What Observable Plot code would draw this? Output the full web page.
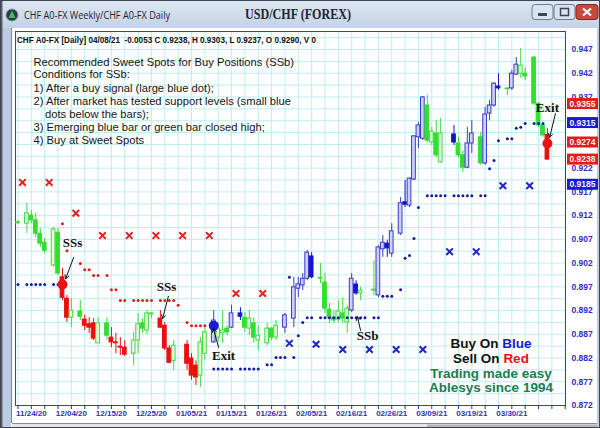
<!DOCTYPE html>
<html><head><meta charset="utf-8">
<script src="https://cdn.jsdelivr.net/npm/d3@7"></script>
<script src="https://cdn.jsdelivr.net/npm/@observablehq/plot@0.6"></script>
<style>html,body{margin:0;padding:0;background:#fff;}#chart{width:600px;height:428px;overflow:hidden}</style>
</head><body><div id="chart"></div>
<script>
// ---- data ----
// [bar index, open, high, low, close, kind]  kind: gf green filled, gh green hollow, rf red, bf blue filled, bh blue hollow
const candleRows = [
[0,.9104,.9110,.9101,.9106,"gh"],[2,.9103,.9146,.9082,.9125,"gh"],[3,.9120,.9131,.9103,.9110,"gf"],
[4,.9110,.9125,.9074,.9082,"gf"],[5,.9082,.9093,.9053,.9061,"gf"],[6,.9063,.9072,.9040,.9046,"gf"],
[8,.9015,.9095,.9011,.9091,"gh"],[9,.9084,.9093,.8994,.8998,"gf"],[10,.8990,.9009,.8941,.8947,"rf"],
[11,.8945,.8952,.8895,.8905,"rf"],[12,.8905,.8945,.8884,.8920,"gh"],[14,.8918,.8941,.8899,.8907,"gf"],
[15,.8901,.8910,.8878,.8888,"rf"],[16,.8891,.8905,.8872,.8884,"rf"],[17,.8893,.8903,.8857,.8861,"rf"],
[18,.8851,.8905,.8851,.8893,"gh"],[20,.8893,.8905,.8857,.8867,"gf"],[21,.8863,.8884,.8842,.8853,"rf"],
[22,.8853,.8872,.8829,.8851,"rf"],[23,.8844,.8863,.8825,.8842,"rf"],[24,.8842,.8857,.8823,.8827,"rf"],
[26,.8829,.8874,.8804,.8857,"gh"],[27,.8857,.8914,.8829,.8891,"gh"],[28,.8893,.8903,.8872,.8882,"gf"],
[29,.8878,.8920,.8870,.8914,"gh"],[30,.8912,.8916,.8903,.8914,"gh"],[32,.8903,.8920,.8882,.8884,"rf"],
[33,.8888,.8895,.8836,.8840,"rf"],[34,.8840,.8846,.8808,.8810,"rf"],[35,.8814,.8857,.8794,.8846,"gh"],
[38,.8848,.8857,.8794,.8808,"rf"],[39,.8819,.8829,.8773,.8783,"rf"],[40,.8804,.8814,.8762,.8779,"rf"],
[41,.8783,.8863,.8758,.8853,"gh"],[42,.8829,.8884,.8814,.8874,"gh"],[44,.8853,.8920,.8851,.8899,"bh"],
[45,.8863,.8893,.8853,.8882,"gh"],[46,.8872,.8920,.8851,.8878,"gh"],[47,.8882,.8888,.8867,.8874,"gf"],
[48,.8884,.8931,.8882,.8914,"bh"],[50,.8914,.8926,.8899,.8907,"bf"],[51,.8905,.8916,.8874,.8884,"gf"],
[52,.8882,.8920,.8867,.8903,"gh"],[53,.8893,.8905,.8851,.8863,"gf"],[54,.8857,.8888,.8836,.8867,"gh"],
[56,.8851,.8893,.8846,.8882,"gh"],[57,.8882,.8884,.8857,.8863,"gf"],[58,.8863,.8899,.8857,.8888,"gh"],
[60,.8884,.8914,.8872,.8910,"bh"],[62,.8903,.8990,.8884,.8969,"bh"],[63,.8966,.8990,.8947,.8975,"bh"],
[64,.8973,.8998,.8962,.8987,"bh"],[65,.8987,.9046,.8983,.9042,"bh"],[66,.9034,.9042,.8987,.8990,"bf"],
[68,.8987,.9019,.8977,.8989,"gh"],[69,.8979,.8998,.8914,.8924,"gf"],[70,.8922,.8935,.8893,.8905,"gf"],
[71,.8905,.8920,.8893,.8899,"gf"],[72,.8901,.8941,.8895,.8918,"gh"],[73,.8914,.8947,.8893,.8903,"gf"],
[74,.8895,.8931,.8872,.8924,"gh"],[75,.8920,.8998,.8916,.8987,"bh"],[76,.8975,.8983,.8952,.8956,"bf"],
[77,.8956,.8969,.8941,.8962,"gh"],[80,.8962,.9025,.8952,.8964,"gh"],[81,.8952,.9057,.8947,.9053,"bh"],
[82,.9049,.9078,.9032,.9063,"bh"],[83,.9061,.9068,.9032,.9051,"bf"],[84,.9040,.9103,.9032,.9087,"bh"],
[86,.9082,.9158,.9078,.9146,"bh"],[87,.9148,.9194,.9137,.9143,"bf"],[88,.9141,.9200,.9137,.9198,"bh"],
[89,.9196,.9289,.9194,.9287,"bh"],[90,.9285,.9316,.9261,.9310,"bh"],[91,.9282,.9371,.9278,.9369,"bh"],
[92,.9352,.9373,.9274,.9278,"gf"],[93,.9274,.9306,.9268,.9297,"gh"],[94,.9293,.9320,.9242,.9247,"gf"],
[95,.9232,.9325,.9230,.9293,"gh"],[98,.9291,.9310,.9268,.9274,"bf"],[99,.9272,.9285,.9242,.9247,"gf"],
[100,.9247,.9257,.9211,.9221,"gf"],[101,.9221,.9306,.9219,.9272,"bh"],[102,.9272,.9320,.9251,.9293,"bh"],
[104,.9285,.9295,.9226,.9230,"gf"],[105,.9230,.9348,.9226,.9333,"bh"],[106,.9335,.9363,.9320,.9352,"bh"],
[107,.9352,.9400,.9348,.9398,"bh"],[108,.9392,.9419,.9384,.9388,"bf"],[110,.9386,.9390,.9373,.9388,"gh"],
[111,.9388,.9426,.9384,.9419,"bh"],[112,.9417,.9453,.9415,.9438,"bh"],[113,.9419,.9472,.9409,.9436,"gh"],
[114,.9419,.9432,.9405,.9413,"gf"],[116,.9453,.9455,.9352,.9356,"gf"],[117,.9356,.9358,.9306,.9310,"gf"],
[118,.9310,.9314,.9285,.9289,"gf"],[119,.9290,.9303,.9237,.9238,"rf"]
];
// support (small blue) dots [index, price]
const supportDots = [
[0,.8975],[2,.8975],[3,.8975],[4,.8975],[5,.8975],[6,.8975],[8,.8975],[9,.8975],
[44,.8797],[45,.8797],[46,.8797],[47,.8797],[48,.8797],[50,.8797],[51,.8797],[52,.8797],[53,.8797],[54,.8797],
[56,.8806],[57,.8806],[58,.8821],[59,.8821],[60,.8821],[61,.8990],[62,.8821],[63,.8867],[64,.8895],
[65,.8905],[66,.8905],[68,.8905],[69,.8905],[70,.8905],[71,.8905],[72,.8905],[74,.8905],[75,.8905],
[76,.8905],[77,.8905],[78,.8905],[80,.8905],[81,.8905],
[82,.8950],[83,.8950],[84,.8950],[86,.8964],[87,.9030],[88,.9036],[89,.9072],[90,.9137],
[92,.9162],[93,.9162],[94,.9162],[95,.9162],[96,.9162],[98,.9162],[99,.9162],[100,.9162],[101,.9162],[102,.9162],
[104,.9162],[105,.9162],[106,.9219],[107,.9236],[108,.9278],[110,.9282],[111,.9282],[112,.9304],[113,.9306],
[114,.9314],[116,.9314],[117,.9314],[118,.9314]
];
// resistance (small red) dots
const resistDots = [
[10,.9103],[11,.9046],[14,.9019],[15,.9006],[16,.9006],[17,.8994],[18,.8994],[20,.8994],[21,.8964],[22,.8964],
[23,.8941],[24,.8941],[26,.8941],[27,.8941],[28,.8941],[29,.8941],[30,.8941],[32,.8941],[33,.8941],[34,.8941],
[35,.8941],[36,.8931],[38,.8895],[39,.8888],[40,.8888],[41,.8888],[42,.8888]
];
const sellCrosses = [[1,.9190],[7,.9190],[13,.9125],[19,.9078],[25,.9078],[31,.9078],[37,.9078],[43,.9078],[49,.8956],[55,.8956]];
const buyCrosses = [[61,.8851],[67,.8849],[73,.8838],[79,.8838],[85,.8838],[91,.8838],[97,.9044],[103,.9044],[109,.9183],[115,.9183]];
const bigSignals = [[10,.8975,"sell"],[44,.8888,"buy"],[119,.9272,"sell"]];
// [label, text x, text y, arrow from x, y, arrow to x, y]
const notes = [
["SSs",12.25,.9063,12.5,.9032,10.7,.8987],
["SSs",33.4,.8969,33.8,.8950,32.5,.8903],
["Exit",46.2,.8825,45.1,.8842,43.9,.8882],
["SSb",78.6,.8867,77.0,.8878,76.3,.8907],
["Exit",119.0,.9348,120.8,.9335,119.5,.9285]
];
const priceTags = [[.9355,"sell"],[.9315,"buy"],[.9274,"sell"],[.9238,"sell"],[.9185,"buy"]];
// axis labels (0.927 and 0.932 are fully hidden behind the price tags in the original)
const yTicks = [.872,.877,.882,.887,.892,.897,.902,.907,.912,.917,.922,.937,.942,.947];
const xTickIdx = [3,12,21,30,39,48,57,66,75,84,93,102,111];
const xTickLabels = ["11/24/20","12/04/20","12/15/20","12/25/20","01/05/21","01/15/21","01/26/21","02/05/21","02/16/21","02/26/21","03/09/21","03/19/21","03/30/21"];
const headerText = "CHF A0-FX [Daily] 04/08/21  -0.0053 C 0.9238, H 0.9303, L 0.9237, O 0.9290, V 0";
const windowTitle = "CHF A0-FX Weekly/CHF A0-FX Daily";
const chartTitle = "USD/CHF (FOREX)";
const infoLines = [
 ["Recommended Sweet Spots for Buy Positions (SSb)",0],
 ["Conditions for SSb:",0],
 ["1) After a buy signal (large blue dot);",0],
 ["2) After market has tested support levels (small blue",0],
 ["dots below the bars);",1],
 ["3) Emerging blue bar or green bar closed high;",0],
 ["4) Buy at Sweet Spots",0]
];

// ---- build ----
const kinds = {
 gf:{fill:"#2fe02f",stroke:"#2fe02f"},
 gh:{fill:"#dcfcdc",stroke:"#45da45"},
 rf:{fill:"#ee0d0d",stroke:"#ee0d0d"},
 bf:{fill:"#1515c8",stroke:"#1515c8"},
 bh:{fill:"#cfd0f8",stroke:"#3a3acb"}
};
const candles = candleRows.map(([i,o,h,l,c,k]) => ({i,o,h,l,c,k}));
const pt = a => a.map(([i,p]) => ({i,p}));
const sigColor = {sell:"#ee1010", buy:"#1a1ad0"};
const labelOf = new Map(xTickIdx.map((d,k) => [d, xTickLabels[k]]));
const minorIdx = d3.range(0, 124, 3);
const gridY = d3.range(0, 32).map(k => 0.872 + 0.0025*k);
const axisBlue = "#2f2fbf";

const plot = Plot.plot({
  width: 600, height: 428,
  marginLeft: 15, marginRight: 35, marginTop: 31, marginBottom: 23,
  x: {domain: [-0.562, 123.06], axis: null},
  y: {domain: [0.872, 0.95079], axis: null},
  color: {type: "identity"},
  style: {background: "transparent", fontFamily: "Liberation Sans, Arial, sans-serif"},
  marks: [
    Plot.ruleY(gridY, {stroke: "#bdeff2", strokeWidth: 1}),
    Plot.ruleX(minorIdx, {stroke: "#bdeff2", strokeWidth: 1}),
    Plot.frame({stroke: "#3d3da8"}),
    Plot.ruleX(candles, {x: "i", y1: "l", y2: "h", stroke: d => kinds[d.k].stroke, strokeWidth: 1}),
    Plot.rect(candles, {x1: d => d.i - 0.42, x2: d => d.i + 0.42, y1: d => Math.min(d.o,d.c), y2: d => Math.max(d.o,d.c),
      fill: d => kinds[d.k].fill, stroke: d => kinds[d.k].stroke, strokeWidth: 1}),
    Plot.dot(pt(supportDots), {x: "i", y: "p", r: 1.5, fill: "#1b1ba2"}),
    Plot.dot(pt(resistDots), {x: "i", y: "p", r: 1.5, fill: "#e41c1c"}),
    Plot.dot(pt(sellCrosses), {x: "i", y: "p", symbol: "times", r: 3.1, stroke: "#e52222", strokeWidth: 2}),
    Plot.dot(pt(buyCrosses), {x: "i", y: "p", symbol: "times", r: 3.1, stroke: "#2323c8", strokeWidth: 2}),
    Plot.dot(bigSignals, {x: d => d[0], y: d => d[1], r: 5, fill: d => sigColor[d[2]]}),
    Plot.arrow(notes, {x1: d => d[3], y1: d => d[4], x2: d => d[5], y2: d => d[6], stroke: "#111", strokeWidth: 1, headLength: 6}),
    Plot.text(notes, {x: d => d[1], y: d => d[2], text: d => d[0], fontFamily: "Liberation Serif, Times New Roman, serif",
      fontWeight: "bold", fontSize: 13, fill: "#111"}),
    Plot.axisY(yTicks, {anchor: "right", tickSize: 0, tickPadding: 6, tickFormat: d3.format(".3f"), label: null,
      fontWeight: "bold", fontSize: 8.5, fill: axisBlue}),
    Plot.axisX(minorIdx, {anchor: "bottom", tickSize: 4, tickFormat: () => "", label: null, stroke: axisBlue}),
    Plot.axisX(xTickIdx, {anchor: "bottom", tickSize: 0, tickPadding: 5, tickFormat: d => labelOf.get(d), label: null,
      fontWeight: "bold", fontSize: 8, fill: axisBlue})
  ]
});
document.getElementById("chart").appendChild(plot);

const svg = d3.select(plot);
const y = plot.scale("y");
// background & window chrome
const bg = svg.insert("g", ":first-child");
const defs = svg.insert("defs", ":first-child");
const gr = defs.append("linearGradient").attr("id","tb").attr("x1",0).attr("x2",0).attr("y1",0).attr("y2",1);
gr.append("stop").attr("offset","0").attr("stop-color","#dfe8f3");
gr.append("stop").attr("offset","1").attr("stop-color","#c3d2e5");
bg.append("rect").attr("width",600).attr("height",428).attr("fill","#fff");
bg.append("rect").attr("width",600).attr("height",28).attr("fill","url(#tb)");
bg.append("rect").attr("x",0).attr("y",28).attr("width",11).attr("height",400).attr("fill","#bccde3");
bg.append("rect").attr("x",0).attr("y",0).attr("width",2.5).attr("height",428).attr("fill","#5a5f68");
bg.append("rect").attr("x",597).attr("y",28).attr("width",3).attr("height",400).attr("fill","#bccde3");
bg.append("line").attr("x1",11.5).attr("x2",11.5).attr("y1",28).attr("y2",423).attr("stroke","#7b8595");
bg.append("rect").attr("x",12).attr("y",423).attr("width",585).attr("height",5).attr("fill","#e6e6e6");
bg.append("line").attr("x1",12).attr("x2",597).attr("y1",423.5).attr("y2",423.5).attr("stroke","#8a8a8a");
bg.append("rect").attr("x",427).attr("y",424.5).attr("width",170).attr("height",3.5).attr("fill","#b5b5b5");
bg.append("rect").attr("x",0.5).attr("y",0.5).attr("width",599).attr("height",427).attr("fill","none").attr("stroke","#3e4550");

const fg = svg.append("g").attr("text-anchor","start");
// title bar
fg.append("circle").attr("cx",12).attr("cy",15).attr("r",6).attr("fill","#2b3654").attr("stroke","#8b95a8");
fg.append("path").attr("d","M12 10.5 L15.5 18 L8.5 18 Z").attr("fill","#3ec43e");
fg.append("text").attr("x",24).attr("y",19).attr("text-anchor","start").attr("font-family","Open Sans, Liberation Sans, sans-serif").attr("font-size",11)
  .attr("fill","#1e2430").attr("textLength",146).attr("lengthAdjust","spacingAndGlyphs").text(windowTitle);
fg.append("text").attr("x",245).attr("y",19).attr("text-anchor","start").attr("font-family","Liberation Serif, serif")
  .attr("font-weight","bold").attr("font-size",14).attr("fill","#1e2430").attr("textLength",106).attr("lengthAdjust","spacingAndGlyphs").text(chartTitle);
const btn = (x,w,fill,stroke) => fg.append("rect").attr("x",x).attr("y",4.5).attr("width",w).attr("height",15).attr("rx",3)
  .attr("fill",fill).attr("stroke",stroke);
btn(532,21,"#d9e3ef","#6d7d93");
fg.append("rect").attr("x",538).attr("y",13).attr("width",9).attr("height",3).attr("fill","#3a4558");
btn(554,21,"#d9e3ef","#6d7d93");
fg.append("rect").attr("x",560.5).attr("y",8.5).attr("width",8).attr("height",7).attr("fill","none").attr("stroke","#3a4558").attr("stroke-width",1.5);
btn(576,22,"#c9473d","#7c2b23");
fg.append("path").attr("d","M583 8.5 L591 15.5 M591 8.5 L583 15.5").attr("stroke","#fff").attr("stroke-width",2.2);

// header line
fg.append("text").attr("x",17).attr("y",43).attr("text-anchor","start").attr("font-family","Liberation Sans, Arial, sans-serif").attr("font-weight","bold")
  .attr("font-size",9).attr("fill","#111").attr("textLength",299).attr("lengthAdjust","spacingAndGlyphs").text(headerText);
// info block
infoLines.forEach(([t,ind],k) => {
  const base = [66,78,92,105,118,131,144][k];
  fg.append("text").attr("x", ind ? 45 : 33.5).attr("y", base).attr("text-anchor","start").attr("font-family","Liberation Sans, Arial, sans-serif")
    .attr("font-size",11.2).attr("fill","#151515").text(t);
});
// bottom-right slogan
const slog = (parts, yb) => {
  const t = fg.append("text").attr("x",491).attr("y",yb).attr("text-anchor","middle").attr("font-family","Liberation Sans, Arial, sans-serif")
    .attr("font-weight","bold").attr("font-size",13.5);
  parts.forEach(([s,c]) => t.append("tspan").attr("fill",c).text(s));
};
slog([["Buy On ","#111"],["Blue","#1a1ad6"]], 348);
slog([["Sell On ","#111"],["Red","#e01414"]], 363);
slog([["Trading made easy","#1d7c50"]], 378);
slog([["Ablesys since 1994","#1d7c50"]], 392);
// price tags on right axis
priceTags.forEach(([v,s]) => {
  const yy = y.apply(v);
  fg.append("rect").attr("x",567).attr("y",yy-5.5).attr("width",31).attr("height",11)
    .attr("fill", s === "sell" ? "#e21c1c" : "#1a1ad2");
  fg.append("text").attr("x",582.5).attr("y",yy+3.2).attr("text-anchor","middle").attr("font-family","Liberation Sans, Arial, sans-serif")
    .attr("font-weight","bold").attr("font-size",8.5).attr("fill","#f2f2f2").text(v.toFixed(4));
});
</script></body></html>
